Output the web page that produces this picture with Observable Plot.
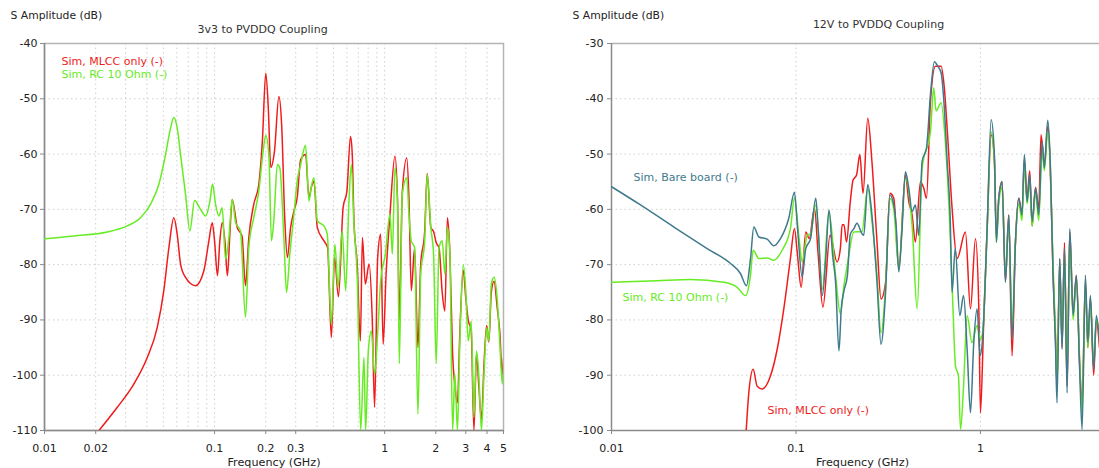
<!DOCTYPE html>
<html>
<head>
<meta charset="utf-8">
<script src="https://cdn.jsdelivr.net/npm/d3@7"></script>
<script src="https://cdn.jsdelivr.net/npm/@observablehq/plot@0.6"></script>
<style>
  html, body { margin: 0; padding: 0; background: #fff; }
  #wrap { display: flex; flex-direction: row; width: 1099px; height: 468px; overflow: hidden; }
  #wrap svg { display: block; }
</style>
</head>
<body>
<div id="wrap"></div>
<script>
// ---------- Data (frequency GHz, S amplitude dB) ----------
const leftTitle = "3v3 to PVDDQ Coupling";
const rightTitle = "12V to PVDDQ Coupling";
const yAxisTitle = "S Amplitude (dB)";
const xAxisTitle = "Frequency (GHz)";
const seriesNames = ["Sim, MLCC only (-)", "Sim, RC 10 Ohm (-)", "Sim, Bare board (-)"];

const leftXTicks = [0.01, 0.02, 0.1, 0.2, 0.3, 1, 2, 3, 4, 5];
const leftXGrid = [0.02,0.03,0.04,0.05,0.06,0.07,0.08,0.09,0.1,0.2,0.3,0.4,0.5,0.6,0.7,0.8,0.9,1,2,3,4];
const leftYTicks = [-110, -100, -90, -80, -70, -60, -50, -40];
const rightXTicks = [0.01, 0.1, 1];
const rightXGrid = [0.1, 1];
const rightYTicks = [-100, -90, -80, -70, -60, -50, -40, -30];

const leftMLCC = [[0.0209,-110],[0.0268,-105.8],[0.0335,-101.6],[0.0402,-96.8],[0.046,-91.4],[0.0503,-84.7],[0.0539,-76.9],[0.0576,-71.5],[0.0603,-74.5],[0.0631,-79.9],[0.0675,-82.3],[0.0773,-83.8],[0.0865,-81.1],[0.0926,-75.7],[0.0969,-72.4],[0.1,-75.7],[0.104,-82.0],[0.1074,-75.7],[0.1109,-72.4],[0.115,-75.7],[0.119,-82.0],[0.123,-74.5],[0.127,-68.2],[0.136,-73.3],[0.145,-74.8],[0.152,-83.8],[0.159,-75.1],[0.170,-69.1],[0.182,-65.5],[0.191,-57.7],[0.200,-45.4],[0.207,-51.7],[0.214,-62.4],[0.225,-59.5],[0.239,-49.6],[0.248,-54.7],[0.259,-72.1],[0.268,-78.7],[0.280,-73.3],[0.293,-70.3],[0.306,-67.9],[0.321,-61.0],[0.343,-60.1],[0.359,-67.9],[0.370,-66.1],[0.384,-64.9],[0.402,-73.3],[0.440,-75.7],[0.462,-76.9],[0.486,-93.2],[0.508,-78.7],[0.535,-85.8],[0.57,-69.7],[0.60,-66.7],[0.63,-56.8],[0.645,-60],[0.66,-72],[0.69,-80],[0.72,-93.8],[0.74,-75.1],[0.77,-83.5],[0.81,-79.9],[0.845,-89.5],[0.873,-105.8],[0.91,-78.7],[0.948,-74.5],[0.98,-94.4],[1.02,-81.7],[1.075,-70.9],[1.15,-60.4],[1.19,-68],[1.22,-90],[1.27,-67],[1.35,-60.7],[1.39,-68],[1.435,-84.7],[1.50,-77],[1.57,-95],[1.63,-80],[1.72,-74],[1.78,-63.5],[1.87,-73.3],[1.94,-74],[2.01,-76],[2.09,-77],[2.18,-85],[2.26,-88.4],[2.34,-71.5],[2.42,-78],[2.51,-96.2],[2.59,-102],[2.68,-105],[2.77,-92],[2.90,-81],[3.0,-86],[3.10,-90],[3.23,-92],[3.35,-110],[3.47,-96],[3.58,-102],[3.71,-108],[3.84,-98],[3.98,-91],[4.1,-94],[4.24,-85],[4.40,-83],[4.60,-88],[4.75,-92],[4.92,-100],[5.0,-97]];

const leftRC = [[0.01,-75.3],[0.0149,-74.8],[0.0234,-74.1],[0.0306,-73.0],[0.0367,-71.5],[0.042,-69.1],[0.047,-65.5],[0.0515,-60.1],[0.0551,-55.3],[0.0576,-53.4],[0.0603,-55.3],[0.0631,-60.1],[0.0675,-67.3],[0.0716,-73.9],[0.0763,-68.4],[0.0827,-70.0],[0.0885,-71.2],[0.0939,-68.5],[0.0973,-65.4],[0.1014,-69.1],[0.106,-71.2],[0.1109,-69.7],[0.116,-79.0],[0.1214,-75.1],[0.127,-68.2],[0.133,-72.4],[0.142,-73.9],[0.152,-89.5],[0.159,-76.9],[0.170,-71.5],[0.182,-66.7],[0.193,-59.5],[0.200,-56.6],[0.209,-60.7],[0.216,-75.7],[0.223,-72.1],[0.234,-61.9],[0.242,-62.5],[0.256,-75.7],[0.265,-85.0],[0.277,-78.1],[0.293,-70.9],[0.306,-64.9],[0.321,-61.9],[0.343,-58.4],[0.359,-68.5],[0.370,-66.1],[0.384,-64.3],[0.402,-72.1],[0.440,-73.0],[0.460,-74.5],[0.486,-90.8],[0.510,-76.3],[0.532,-84.1],[0.563,-73.9],[0.590,-84.7],[0.617,-68.5],[0.637,-61.9],[0.660,-72.7],[0.691,-82.9],[0.723,-110],[0.756,-96.8],[0.773,-110],[0.802,-95.6],[0.835,-92.0],[0.873,-99.8],[0.914,-91.4],[0.948,-82.9],[1.01,-78.1],[1.075,-70.9],[1.11,-78.1],[1.15,-62.5],[1.19,-68.5],[1.22,-97.9],[1.27,-67.3],[1.35,-64.3],[1.39,-70.9],[1.435,-75.7],[1.50,-76.9],[1.57,-107],[1.63,-81.7],[1.72,-75.7],[1.78,-63.7],[1.87,-73.3],[1.94,-78.1],[2.01,-97.9],[2.09,-76.9],[2.18,-75.7],[2.26,-81.7],[2.34,-73.3],[2.42,-78.1],[2.51,-110],[2.59,-99.8],[2.68,-110],[2.77,-93.8],[2.90,-80.0],[3.0,-84.7],[3.10,-93.8],[3.23,-90.2],[3.35,-107.6],[3.47,-95.6],[3.58,-100],[3.71,-110],[3.84,-99.8],[3.98,-91.4],[4.1,-93.8],[4.24,-83.5],[4.40,-82.3],[4.60,-86.5],[4.75,-93.8],[4.92,-101.6],[5.0,-98]];

const rightBare = [[0.01,-55.9],[0.01436,-59.2],[0.0218,-63.2],[0.033,-67.1],[0.0442,-69.8],[0.050,-71.6],[0.0539,-73.8],[0.0567,-68.9],[0.0591,-63.2],[0.0629,-65.0],[0.0698,-65.4],[0.0759,-66.6],[0.0824,-65.3],[0.0914,-61.6],[0.0981,-56.9],[0.102,-63.5],[0.108,-72.2],[0.113,-67.1],[0.120,-65.3],[0.128,-58.0],[0.132,-63.5],[0.139,-75.6],[0.145,-68.9],[0.151,-60.1],[0.158,-68.3],[0.164,-73.2],[0.171,-85.6],[0.176,-78.0],[0.182,-74.8],[0.19,-72.0],[0.197,-64.5],[0.206,-63.5],[0.214,-62.5],[0.228,-64.4],[0.233,-64.7],[0.245,-55.5],[0.258,-61.0],[0.275,-73.2],[0.289,-84.4],[0.306,-75.0],[0.323,-57.4],[0.339,-59.2],[0.35,-63.5],[0.361,-71.3],[0.376,-63.5],[0.392,-53.2],[0.409,-56.2],[0.426,-60.4],[0.444,-59.2],[0.463,-64.7],[0.483,-51.3],[0.51,-48.9],[0.536,-39.2],[0.563,-33.3],[0.587,-34.1],[0.612,-35.3],[0.637,-41.6],[0.66,-51.3],[0.685,-61.0],[0.702,-75.0],[0.73,-67.1],[0.773,-79.2],[0.81,-75.6],[0.847,-85.3],[0.883,-96.8],[0.92,-84.1],[0.959,-78.0],[0.995,-86.5],[1.03,-82.8],[1.087,-63.5],[1.143,-43.8],[1.19,-50.1],[1.22,-65.9],[1.257,-58.0],[1.31,-55.0],[1.366,-73.2],[1.424,-61.0],[1.484,-83.5],[1.548,-65.9],[1.614,-58.0],[1.68,-61.0],[1.73,-50.1],[1.79,-58.6],[1.85,-53.8],[1.906,-62.2],[1.99,-56.2],[2.07,-61.0],[2.16,-47.7],[2.22,-52.5],[2.317,-43.9],[2.39,-51.3],[2.476,-71.9],[2.55,-84.1],[2.60,-95.0],[2.69,-68.9],[2.77,-85.3],[2.855,-67.1],[2.95,-93.2],[3.05,-63.5],[3.18,-79.2],[3.31,-71.9],[3.45,-88.9],[3.556,-99.8],[3.707,-71.9],[3.82,-84.1],[3.946,-75.6],[4.11,-88.9],[4.25,-79.2],[4.42,-84.1]];

const rightRC = [[0.01,-73.2],[0.0177,-72.9],[0.0268,-72.7],[0.0406,-73.2],[0.048,-74.1],[0.0533,-75.6],[0.0567,-71.9],[0.0586,-67.4],[0.0629,-68.9],[0.0698,-68.8],[0.0759,-69.2],[0.0841,-67.4],[0.0933,-63.5],[0.0981,-58.0],[0.104,-65.3],[0.108,-69.5],[0.115,-64.7],[0.120,-64.4],[0.128,-59.2],[0.139,-74.4],[0.151,-60.4],[0.164,-72.0],[0.174,-78.9],[0.182,-73.8],[0.19,-70],[0.206,-64.1],[0.228,-64],[0.245,-56.2],[0.258,-62],[0.275,-72],[0.289,-82.3],[0.306,-74],[0.323,-58.0],[0.339,-60],[0.361,-70.7],[0.392,-54.4],[0.426,-62.8],[0.454,-78.0],[0.483,-52.5],[0.536,-45.9],[0.558,-38.0],[0.575,-42.2],[0.612,-40.7],[0.645,-47.7],[0.688,-65.9],[0.71,-78.0],[0.732,-88.3],[0.76,-90.1],[0.78,-99.8],[0.81,-92.0],[0.847,-79.2],[0.90,-84.1],[0.959,-81.0],[1.0,-83.5],[1.03,-82],[1.087,-64],[1.143,-46],[1.19,-51],[1.22,-66],[1.257,-59],[1.31,-56],[1.366,-72],[1.424,-62],[1.484,-82],[1.548,-66],[1.614,-59],[1.68,-62],[1.73,-52],[1.79,-59],[1.85,-55],[1.906,-63],[1.99,-57],[2.07,-62],[2.16,-49],[2.22,-53],[2.317,-46],[2.39,-52],[2.476,-70],[2.55,-82],[2.60,-92],[2.69,-70],[2.77,-84],[2.855,-68],[2.95,-90],[3.05,-65],[3.18,-80],[3.31,-73],[3.45,-87],[3.556,-97],[3.707,-73],[3.82,-85],[3.946,-77],[4.11,-88],[4.25,-80],[4.42,-82]];

const rightMLCC = [[0.0536,-100.5],[0.0555,-93.2],[0.0586,-88.9],[0.0616,-92.0],[0.0656,-92.5],[0.0728,-90.1],[0.0791,-85.3],[0.0859,-78.0],[0.0933,-68.9],[0.0981,-63.5],[0.102,-68.4],[0.1067,-74.1],[0.113,-64.1],[0.118,-65.3],[0.126,-59.8],[0.132,-68.3],[0.140,-77.7],[0.153,-64.7],[0.167,-69.5],[0.174,-67.1],[0.178,-62.8],[0.182,-62.8],[0.188,-65.9],[0.197,-58.6],[0.204,-54.7],[0.213,-53.8],[0.222,-50.1],[0.231,-57.1],[0.245,-43.5],[0.258,-51.3],[0.275,-65.9],[0.289,-76.2],[0.306,-73.2],[0.323,-57.1],[0.339,-58.0],[0.361,-70.7],[0.392,-53.8],[0.409,-58.6],[0.426,-61.0],[0.444,-65.9],[0.473,-55.0],[0.493,-56.2],[0.51,-58.0],[0.536,-40.4],[0.570,-34.1],[0.612,-34.1],[0.637,-38.0],[0.665,-47.1],[0.702,-59.8],[0.747,-68.9],[0.829,-64.1],[0.883,-78.0],[0.94,-65.3],[0.98,-78.0],[1.0,-96.8],[1.04,-81.0],[1.087,-63.5],[1.143,-46.5],[1.19,-51],[1.22,-65],[1.257,-58],[1.31,-55],[1.366,-73],[1.424,-61],[1.484,-86.5],[1.548,-66],[1.614,-58],[1.68,-61],[1.73,-51],[1.79,-58],[1.85,-53],[1.906,-63],[1.99,-56],[2.07,-60],[2.13,-46.5],[2.22,-52],[2.317,-45],[2.39,-52],[2.476,-72],[2.55,-83],[2.60,-92],[2.69,-69],[2.77,-85],[2.855,-66],[2.95,-92],[3.05,-64],[3.18,-79],[3.31,-72],[3.45,-88],[3.556,-95],[3.707,-73],[3.82,-85],[3.946,-76],[4.11,-90],[4.25,-80],[4.42,-85]];

// ---------- Styles ----------
const FONT = '"DejaVu Sans", Verdana, sans-serif';
const RED = "#f01c1c", GREEN = "#66ec22", TEAL = "#3f7b8d";
const GRID = {stroke: "#cfcfcf", strokeOpacity: 1, strokeDasharray: "1.5,3", strokeWidth: 1};
const fmt = d => String(d);
const lineOpts = c => ({x: d => d[0], y: d => d[1], stroke: c, strokeWidth: 1.5, strokeLinejoin: "round", curve: "monotone-x", clip: true});
const label = (t, o) => Plot.text([t], {text: d => d, frameAnchor: "top-left", textAnchor: "start", lineAnchor: "middle", fontSize: 11, ...o});
const xTickLabels = ticks => Plot.text(ticks, {x: d => d, text: fmt, frameAnchor: "bottom", dy: 18, lineAnchor: "middle", fill: "#222", fontSize: 11});

const left = Plot.plot({
  width: 550, height: 468,
  marginLeft: 44, marginRight: 47, marginTop: 43, marginBottom: 38,
  style: {fontFamily: FONT, fontSize: "11px", color: "#222", background: "#fff", overflow: "visible"},
  x: {type: "log", domain: [0.01, 5]},
  y: {domain: [-110, -40]},
  marks: [
    Plot.gridX(leftXGrid, GRID),
    Plot.gridY(leftYTicks.slice(1, -1), GRID),
    Plot.frame({stroke: "#b4b4b4", strokeWidth: 1.5}),
    Plot.ruleX([0.01], {stroke: "#8a8a8a", strokeWidth: 1.5}),
    Plot.ruleY([-110], {stroke: "#8a8a8a", strokeWidth: 1.5}),
    Plot.axisX(leftXTicks, {tickSize: 4, text: null, label: null, stroke: "#8a8a8a"}),
    xTickLabels(leftXTicks),
    Plot.axisY(leftYTicks, {tickSize: 4, tickPadding: 3, tickFormat: fmt, label: null, stroke: "#8a8a8a"}),
    Plot.line(leftMLCC, lineOpts(RED)),
    Plot.line(leftRC, lineOpts(GREEN)),
    label(yAxisTitle, {dx: -34, dy: -28, fill: "#222", fontSize: 10.8}),
    label(leftTitle, {dx: 218, dy: -14, textAnchor: "middle", fill: "#333", fontSize: 11}),
    Plot.text([xAxisTitle], {text: d => d, frameAnchor: "bottom", dy: 32, lineAnchor: "middle", fill: "#222", fontSize: 11.2}),
    label(seriesNames[0], {dx: 17, dy: 18, fill: RED}),
    label(seriesNames[1], {dx: 17, dy: 30.5, fill: GREEN})
  ]
});

const right = Plot.plot({
  width: 549, height: 468,
  marginLeft: 61, marginRight: 0, marginTop: 43, marginBottom: 38,
  style: {fontFamily: FONT, fontSize: "11px", color: "#222", background: "#fff", overflow: "visible"},
  x: {type: "log", domain: [0.01, 4.42]},
  y: {domain: [-100, -30]},
  marks: [
    Plot.gridX(rightXGrid, GRID),
    Plot.gridY(rightYTicks.slice(1, -1), GRID),
    Plot.ruleY([-30], {stroke: "#b4b4b4", strokeWidth: 1.5}),
    Plot.ruleX([0.01], {stroke: "#8a8a8a", strokeWidth: 1.5}),
    Plot.ruleY([-100], {stroke: "#8a8a8a", strokeWidth: 1.5}),
    Plot.axisX(rightXTicks, {tickSize: 4, text: null, label: null, stroke: "#8a8a8a"}),
    xTickLabels(rightXTicks),
    Plot.axisY(rightYTicks, {tickSize: 4, tickPadding: 4, tickFormat: fmt, label: null, stroke: "#8a8a8a"}),
    Plot.line(rightMLCC, lineOpts(RED)),
    Plot.line(rightRC, lineOpts(GREEN)),
    Plot.line(rightBare, lineOpts(TEAL)),
    label(yAxisTitle, {dx: -39, dy: -28, fill: "#222", fontSize: 10.8}),
    label(rightTitle, {dx: 267, dy: -19, textAnchor: "middle", fill: "#333", fontSize: 11}),
    label(xAxisTitle, {dx: 251, dy: 419, textAnchor: "middle", fill: "#222", fontSize: 11.2}),
    label(seriesNames[2], {dx: 22, dy: 134, fill: TEAL}),
    label(seriesNames[1], {dx: 11, dy: 254, fill: GREEN}),
    label(seriesNames[0], {dx: 156, dy: 367, fill: RED})
  ]
});

const wrap = document.getElementById("wrap");
wrap.appendChild(left);
wrap.appendChild(right);
</script>
</body>
</html>
